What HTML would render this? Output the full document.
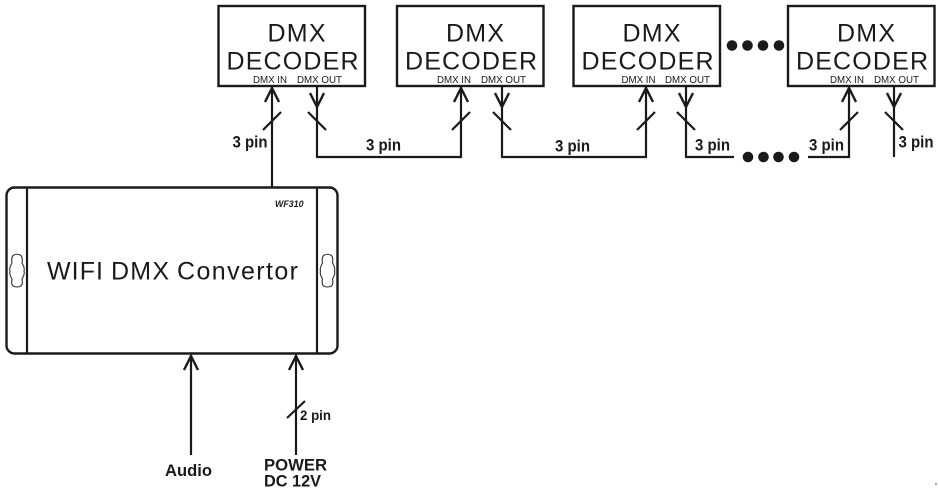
<!DOCTYPE html>
<html>
<head>
<meta charset="utf-8">
<style>
html,body{margin:0;padding:0;background:#fff;width:938px;height:493px;overflow:hidden}
svg{display:block}
text{font-family:"Liberation Sans",Arial,sans-serif;fill:#1a1a1a}
.t{font-size:25px}
.s{font-size:10px}
.b{font-size:16.5px;font-weight:bold}
</style>
</head>
<body>
<svg width="938" height="493" viewBox="0 0 938 493" xmlns="http://www.w3.org/2000/svg">
<defs>
<g id="dec">
<rect x="0" y="0" width="146.5" height="80" fill="none" stroke="#1a1a1a" stroke-width="2.4"/>
<text class="t" x="49" y="35.5" textLength="58" lengthAdjust="spacing">DMX</text>
<text class="t" x="8" y="63.5" textLength="132" lengthAdjust="spacing">DECODER</text>
</g>
<path id="up" d="M-7 15 L0 1 L7 15" fill="none" stroke="#1a1a1a" stroke-width="2.4"/>
<path id="dn" d="M-7 -15 L0 -1 L7 -15" fill="none" stroke="#1a1a1a" stroke-width="2.4"/>
</defs>

<use href="#dec" x="218.5" y="6"/>
<use href="#dec" x="397" y="6"/>
<use href="#dec" x="573.5" y="6"/>
<use href="#dec" x="788" y="6"/>

<text class="s" x="253" y="83" textLength="34" lengthAdjust="spacingAndGlyphs">DMX IN</text>
<text class="s" x="297" y="83" textLength="45" lengthAdjust="spacingAndGlyphs">DMX OUT</text>
<text class="s" x="437" y="83" textLength="34" lengthAdjust="spacingAndGlyphs">DMX IN</text>
<text class="s" x="481" y="83" textLength="45" lengthAdjust="spacingAndGlyphs">DMX OUT</text>
<text class="s" x="621.5" y="83" textLength="34" lengthAdjust="spacingAndGlyphs">DMX IN</text>
<text class="s" x="665" y="83" textLength="45" lengthAdjust="spacingAndGlyphs">DMX OUT</text>
<text class="s" x="830" y="83" textLength="34" lengthAdjust="spacingAndGlyphs">DMX IN</text>
<text class="s" x="874" y="83" textLength="45" lengthAdjust="spacingAndGlyphs">DMX OUT</text>

<g fill="none" stroke="#1a1a1a" stroke-width="2.2">
<path d="M272 86 V187"/>
<path d="M317 86 V157 H461 V86"/>
<path d="M502 86 V157 H646 V86"/>
<path d="M686 86 V157 H734"/>
<path d="M808 157 H849 V86"/>
<path d="M894 86 V157"/>
<path d="M263 130 L281 112"/>
<path d="M452 130 L470 112"/>
<path d="M637 130 L655 112"/>
<path d="M840 130 L858 112"/>
<path d="M308 112 L326 130"/>
<path d="M493 112 L511 130"/>
<path d="M677 112 L695 130"/>
<path d="M885 112 L903 130"/>
<path d="M191 355 V455"/>
<path d="M296 355 V455"/>
<path d="M287 418 L305 401"/>
</g>
<use href="#up" x="272" y="87"/>
<use href="#up" x="461" y="87"/>
<use href="#up" x="646" y="87"/>
<use href="#up" x="849" y="87"/>
<use href="#dn" x="317" y="108"/>
<use href="#dn" x="502" y="108"/>
<use href="#dn" x="686" y="108"/>
<use href="#dn" x="894" y="108"/>
<use href="#up" x="191" y="355"/>
<use href="#up" x="296" y="355"/>

<text class="b" x="232.5" y="147.5" textLength="35" lengthAdjust="spacingAndGlyphs">3 pin</text>
<text class="b" x="366" y="150.5" textLength="35" lengthAdjust="spacingAndGlyphs">3 pin</text>
<text class="b" x="555" y="151.5" textLength="35" lengthAdjust="spacingAndGlyphs">3 pin</text>
<text class="b" x="695" y="150.5" textLength="35" lengthAdjust="spacingAndGlyphs">3 pin</text>
<text class="b" x="809" y="150.5" textLength="35" lengthAdjust="spacingAndGlyphs">3 pin</text>
<text class="b" x="898.5" y="147.5" textLength="35" lengthAdjust="spacingAndGlyphs">3 pin</text>

<g fill="#1a1a1a">
<circle cx="732" cy="45.5" r="5.3"/><circle cx="747.5" cy="45.5" r="5.3"/><circle cx="763" cy="45.5" r="5.3"/><circle cx="779" cy="45.5" r="5.3"/>
<circle cx="748" cy="157" r="5.3"/><circle cx="763.5" cy="157" r="5.3"/><circle cx="778.5" cy="157" r="5.3"/><circle cx="794" cy="157" r="5.3"/>
</g>

<rect x="6.5" y="187.5" width="331" height="166" rx="8" ry="8" fill="none" stroke="#1a1a1a" stroke-width="2.4"/>
<path d="M27 187 V354 M317 187 V354" stroke="#1a1a1a" stroke-width="2.2" fill="none"/>
<path d="M13 255.5 Q17 253 21 255.5 Q23 258 22 263 Q25 268 24 271 Q25 274 22 279 Q23 284 21 286 Q17 288 13 286 Q11 284 12 279 Q9 274 10 271 Q9 268 12 263 Q11 258 13 255.5 Z" fill="none" stroke="#333" stroke-width="1.1"/>
<path d="M323.5 255.5 Q327.5 253 331.5 255.5 Q333.5 258 332.5 263 Q335.5 268 334.5 271 Q335.5 274 332.5 279 Q333.5 284 331.5 286 Q327.5 288 323.5 286 Q321.5 284 322.5 279 Q319.5 274 320.5 271 Q319.5 268 322.5 263 Q321.5 258 323.5 255.5 Z" fill="none" stroke="#333" stroke-width="1.1"/>

<text x="275" y="207" style="font-size:9.5px;font-weight:bold;font-style:italic" textLength="28.5" lengthAdjust="spacingAndGlyphs">WF310</text>
<text x="47" y="279.5" style="font-size:25px" textLength="56" lengthAdjust="spacing">WIFI</text>
<text x="111" y="279.5" style="font-size:25px" textLength="58" lengthAdjust="spacing">DMX</text>
<text x="177" y="279.5" style="font-size:25px" textLength="121" lengthAdjust="spacing">Convertor</text>

<text x="300" y="420" style="font-size:13.5px;font-weight:bold" textLength="31" lengthAdjust="spacingAndGlyphs">2 pin</text>
<text x="165" y="476" style="font-size:16.5px;font-weight:bold" textLength="47" lengthAdjust="spacingAndGlyphs">Audio</text>
<text x="264" y="470.5" style="font-size:16.5px;font-weight:bold" textLength="63" lengthAdjust="spacingAndGlyphs">POWER</text>
<text x="264" y="486.5" style="font-size:16.5px;font-weight:bold" textLength="57" lengthAdjust="spacingAndGlyphs">DC 12V</text>

<circle cx="936" cy="484" r="1" fill="#888"/>
</svg>
</body>
</html>
